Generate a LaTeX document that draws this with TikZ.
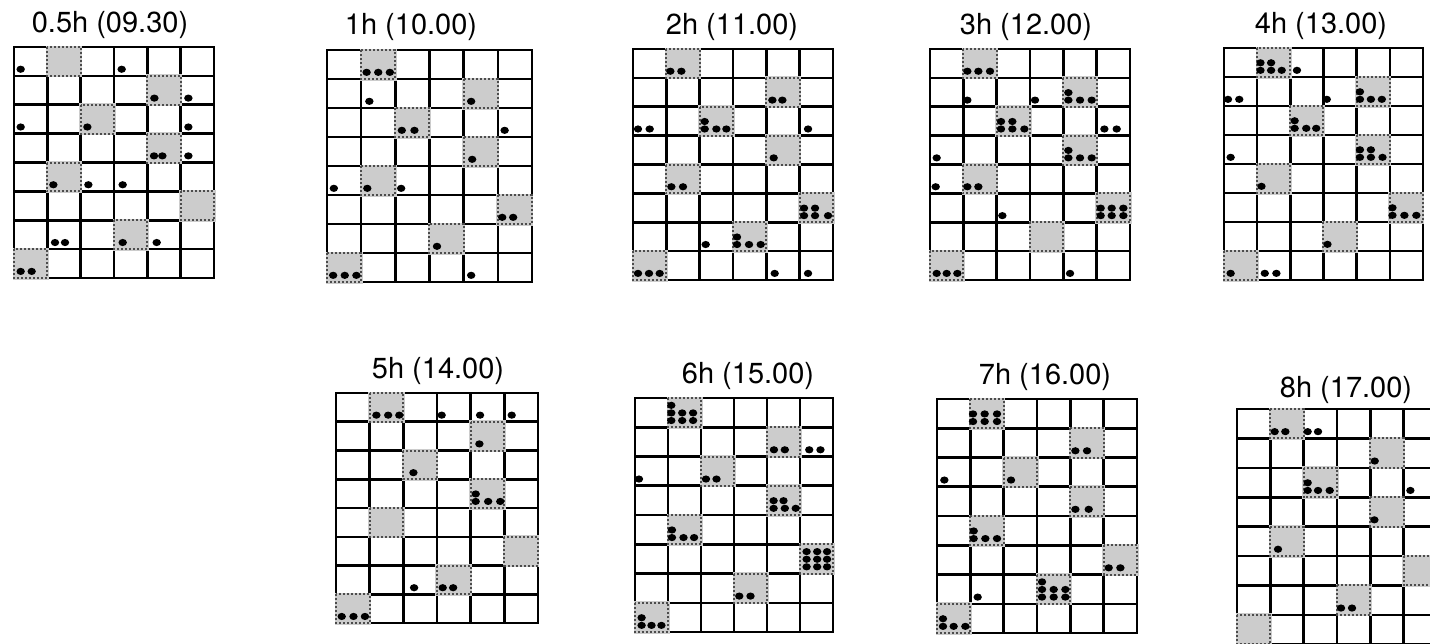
\documentclass[tikz,border=0pt]{standalone}
\usepackage{fontspec}
\setsansfont{TeX Gyre Heros}
\tikzset{
  font=\sffamily,
  ttl/.style={anchor=base, inner sep=0pt, font=\sffamily\fontsize{14.5}{16}\selectfont},
  wall/.style={line width=1.3pt, line cap=rect},
  shadecell/.style={fill=black!20},
  shadeedge/.style={line width=1pt, densely dotted, black!70},
  panel/.style n args={4}{shift={(#1,#2)}, x=#3pt, y=-#4pt},
}
% same rooms are shaded in every plan
\newcommand{\floorplan}{%
  \foreach \cx/\ry in {2/1,5/2,3/3,5/4,2/5,6/6,4/7,1/8}
    \fill[shadecell] (\cx-1,\ry-1) rectangle (\cx,\ry);
  \foreach \i in {0,...,6} \draw[wall] (\i,0) -- (\i,8);
  \foreach \j in {0,...,8} \draw[wall] (0,\j) -- (6,\j);
  \foreach \cx/\ry in {2/1,5/2,3/3,5/4,2/5,6/6,4/7,1/8}
    {\draw[line width=1.5pt, black!20] (\cx-1,\ry-1) rectangle (\cx,\ry);
     \draw[shadeedge] (\cx-1,\ry-1) rectangle (\cx,\ry);}
}
% column/row/offset in room/level
\newcommand{\people}[1]{%
  \foreach \cx/\ry/\fx/\lv in {#1}
    \fill (\cx-1+\fx,\ry-0.23-0.26*\lv) ellipse [x radius=2.1pt, y radius=1.8pt];
}

\begin{document}
\begin{tikzpicture}[x=0.5pt, y=-0.5pt]
  \useasboundingbox (0,0) rectangle (1430,643);
  \clip (0,0) rectangle (1430,643);

  \node[ttl] (t05) at (110,32) {0.5h (09.30)};
  \node[ttl] (t1)  at (411,34) {1h (10.00)};
  \node[ttl] (t2)  at (732,34) {2h (11.00)};
  \node[ttl] (t3)  at (1026,34) {3h (12.00)};
  \node[ttl] (t4)  at (1321,33) {4h (13.00)};
  \node[ttl] (t5)  at (438,378) {5h (14.00)};
  \node[ttl] (t6)  at (748,383) {6h (15.00)};
  \node[ttl] (t7)  at (1045,384) {7h (16.00)};
  \node[ttl] (t8)  at (1346,397) {8h (17.00)};

  \begin{scope}[panel={14}{47}{16.67}{14.44}]
    \floorplan
    \people{1/1/.2/0, 4/1/.23/0, 5/2/.21/0, 6/2/.23/0, 1/3/.2/0, 3/3/.2/0, 6/3/.23/0,
      5/4/.2/0, 5/4/.45/0, 6/4/.23/0, 2/5/.18/0, 3/5/.23/0, 4/5/.26/0, 2/7/.23/0,
      2/7/.53/0, 4/7/.26/0, 5/7/.28/0, 1/8/.2/0, 1/8/.53/0}
  \end{scope}

  \begin{scope}[panel={327}{50}{17.08}{14.5}]
    \floorplan
    \people{2/1/.16/0, 2/1/.5/0, 2/1/.84/0, 2/2/.24/0, 5/2/.22/0, 3/3/.19/0, 3/3/.56/0,
      6/3/.2/0, 5/4/.25/0, 1/5/.2/0, 2/5/.18/0, 3/5/.17/0, 6/6/.13/0, 6/6/.45/0,
      4/7/.22/0, 1/8/.18/0, 1/8/.52/0, 1/8/.86/0, 5/8/.22/0}
  \end{scope}

  \begin{scope}[panel={633}{49}{16.67}{14.44}]
    \floorplan
    \people{2/1/.12/0, 2/1/.45/0, 5/2/.18/0, 5/2/.48/0, 1/3/.15/0, 1/3/.5/0, 3/3/.15/1,
      3/3/.15/0, 3/3/.5/0, 3/3/.8/0, 6/3/.25/0, 5/4/.22/0, 2/5/.15/0, 2/5/.5/0,
      6/6/.13/1, 6/6/.46/1, 6/6/.13/0, 6/6/.46/0, 6/6/.85/0, 3/7/.18/0, 4/7/.12/1,
      4/7/.12/0, 4/7/.48/0, 4/7/.83/0, 1/8/.15/0, 1/8/.48/0, 1/8/.8/0, 5/8/.25/0,
      6/8/.25/0}
  \end{scope}

  \begin{scope}[panel={930}{49}{16.67}{14.44}]
    \floorplan
    \people{2/1/.12/0, 2/1/.45/0, 2/1/.8/0, 2/2/.12/0, 4/2/.15/0, 5/2/.15/1, 5/2/.15/0,
      5/2/.5/0, 5/2/.85/0, 3/3/.13/1, 3/3/.47/1, 3/3/.13/0, 3/3/.47/0, 3/3/.83/0,
      6/3/.23/0, 6/3/.6/0, 1/4/.2/0, 5/4/.15/1, 5/4/.15/0, 5/4/.5/0, 5/4/.85/0,
      1/5/.17/0, 2/5/.12/0, 2/5/.45/0, 3/6/.17/0, 6/6/.12/1, 6/6/.45/1, 6/6/.8/1,
      6/6/.12/0, 6/6/.45/0, 6/6/.8/0, 1/8/.2/0, 1/8/.5/0, 1/8/.82/0, 5/8/.2/0}
  \end{scope}

  \begin{scope}[panel={1224}{48}{16.58}{14.5}]
    \floorplan
    \people{2/1/.1/1, 2/1/.42/1, 2/1/.1/0, 2/1/.42/0, 2/1/.74/0, 3/1/.2/0, 1/2/.12/0,
      1/2/.46/0, 4/2/.1/0, 5/2/.1/1, 5/2/.1/0, 5/2/.43/0, 5/2/.76/0, 3/3/.13/1,
      3/3/.13/0, 3/3/.48/0, 3/3/.78/0, 1/4/.2/0, 5/4/.1/1, 5/4/.43/1, 5/4/.1/0,
      5/4/.43/0, 5/4/.78/0, 2/5/.13/0, 6/6/.08/1, 6/6/.08/0, 6/6/.44/0, 6/6/.8/0,
      4/7/.12/0, 1/8/.2/0, 2/8/.23/0, 2/8/.58/0}
  \end{scope}

  \begin{scope}[panel={336}{393}{16.83}{14.38}]
    \floorplan
    \people{2/1/.2/0, 2/1/.55/0, 2/1/.88/0, 4/1/.14/0, 5/1/.28/0, 6/1/.22/0, 5/2/.26/0,
      3/3/.3/0, 5/4/.15/1, 5/4/.15/0, 5/4/.52/0, 5/4/.88/0, 3/7/.32/0, 4/7/.17/0,
      4/7/.48/0, 1/8/.17/0, 1/8/.52/0, 1/8/.86/0}
  \end{scope}

  \begin{scope}[panel={635}{398}{16.5}{14.63}]
    \floorplan
    \people{2/1/.1/2, 2/1/.1/1, 2/1/.43/1, 2/1/.76/1, 2/1/.1/0, 2/1/.43/0, 2/1/.76/0,
      5/2/.21/0, 5/2/.54/0, 6/2/.28/0, 6/2/.62/0, 1/3/.12/0, 3/3/.15/0, 3/3/.47/0,
      5/4/.2/1, 5/4/.5/1, 5/4/.2/0, 5/4/.54/0, 5/4/.87/0, 2/5/.12/1, 2/5/.12/0,
      2/5/.47/0, 2/5/.79/0, 6/6/.2/2, 6/6/.52/2, 6/6/.82/2, 6/6/.2/1, 6/6/.52/1,
      6/6/.82/1, 6/6/.2/0, 6/6/.52/0, 6/6/.82/0, 4/7/.16/0, 4/7/.5/0, 1/8/.2/1,
      1/8/.2/0, 1/8/.5/0, 1/8/.8/0}
  \end{scope}

  \begin{scope}[panel={937}{399}{16.67}{14.63}]
    \floorplan
    \people{2/1/.08/1, 2/1/.43/1, 2/1/.8/1, 2/1/.08/0, 2/1/.43/0, 2/1/.8/0, 5/2/.15/0,
      5/2/.5/0, 1/3/.22/0, 3/3/.22/0, 5/4/.15/0, 5/4/.55/0, 2/5/.1/1, 2/5/.1/0,
      2/5/.45/0, 2/5/.8/0, 6/6/.15/0, 6/6/.5/0, 2/7/.22/0, 4/7/.15/2, 4/7/.15/1,
      4/7/.5/1, 4/7/.85/1, 4/7/.15/0, 4/7/.5/0, 4/7/.85/0, 1/8/.18/1, 1/8/.18/0,
      1/8/.5/0, 1/8/.85/0}
  \end{scope}

  \begin{scope}[panel={1237}{409}{16.67}{14.7}]
    \floorplan
    \people{2/1/.13/0, 2/1/.45/0, 3/1/.12/0, 3/1/.43/0, 5/2/.13/0, 3/3/.12/1, 3/3/.12/0,
      3/3/.43/0, 3/3/.78/0, 6/3/.2/0, 5/4/.12/0, 2/5/.23/0, 4/7/.12/0, 4/7/.45/0}
  \end{scope}
\end{tikzpicture}
\end{document}
